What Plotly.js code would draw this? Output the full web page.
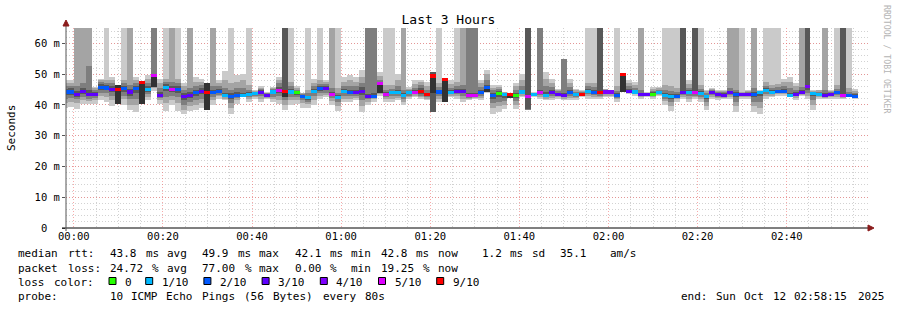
<!DOCTYPE html>
<html><head><meta charset="utf-8">
<script src="https://cdn.plot.ly/plotly-3.0.1.min.js"></script>
<style>html,body{margin:0;padding:0;background:#fff;}</style>
</head><body>
<div id="chart" style="width:897px;height:310px"></div>
<script>
// ---------------- DATA ----------------
// bars every 80 s, first bar starts 23:57:20 (partly hidden by the axis start)
const firstBarStart = Date.UTC(2025, 9, 11, 23, 57, 20);
const stepSeconds = 80;
const rangeStart = '2025-10-11 23:58:15';
const rangeEnd = '2025-10-12 02:58:15';

const median = [44.2,44.2,43.3,44.4,43.4,43.5,45.8,45.5,45.0,45.1,45.3,44.2,
45.2,47.4,44.9,49.7,43.2,45.8,44.9,45.0,42.6,43.1,
43.9,44.5,44.1,44.1,44.4,43.1,42.6,43.1,43.1,43.5,
43.7,44.1,43.1,44.2,44.8,44.3,44.2,43.9,42.8,42.3,
44.4,45.3,45.4,43.5,42.4,44.5,43.9,44.1,44.5,42.6,
42.8,47.0,43.5,43.9,43.9,43.0,43.9,44.1,44.3,43.3,
49.4,44.2,48.3,44.0,44.5,44.5,43.0,43.0,44.0,45.8,
43.1,43.7,43.5,43.5,43.0,44.2,42.7,43.5,44.0,43.1,
44.0,43.5,43.1,43.9,43.3,43.4,44.4,44.1,44.1,44.2,
44.2,43.1,49.9,44.5,44.2,43.3,43.5,43.5,44.1,43.1,
42.8,42.8,44.0,43.9,43.9,43.7,42.6,43.9,43.5,43.1,
43.9,43.5,43.3,43.5,43.5,43.9,44.8,44.0,44.4,44.5,
43.1,43.5,44.1,46.1,43.7,43.5,43.1,43.5,43.9,43.1,
43.1,42.8];
const lossCount = [2,2,3,3,3,3,2,2,3,9,2,3,
2,9,1,5,3,1,5,2,3,3,
2,3,9,2,2,1,2,2,1,1,
1,3,3,1,5,9,1,0,2,1,
1,2,3,5,1,1,2,3,3,3,
2,5,5,1,1,1,1,5,9,9,
9,2,9,1,3,3,5,5,2,2,
2,0,1,9,0,1,5,1,5,1,
3,3,3,2,1,9,1,2,9,4,
4,2,9,3,1,3,3,0,1,1,
1,2,3,1,5,1,1,3,3,3,
3,2,3,3,2,1,1,1,2,2,
1,3,3,4,1,1,3,3,2,5,
2,2];
// the ten pings of each step, sorted from fastest (ping1) to slowest (ping10); 70 = off the top
const ping1 = [39.0,39.2,38.8,40.4,40.4,40.4,41.5,41.0,39.6,40.4,40.0,38.3,
37.8,40.4,41.5,44.5,40.4,38.0,40.0,38.0,37.2,38.0,
38.3,39.0,38.3,40.0,42.0,41.5,37.0,40.4,42.6,41.0,
42.0,41.0,42.0,41.0,40.4,38.3,40.0,40.4,39.0,39.0,
40.0,42.0,42.6,40.0,38.0,41.0,41.0,41.5,37.8,40.0,
41.0,43.0,41.0,41.0,41.5,40.0,42.0,42.6,42.0,41.5,
37.8,41.0,41.0,42.6,42.0,41.0,41.5,42.0,41.5,44.0,
37.2,37.8,38.8,42.4,38.8,42.6,38.3,42.6,42.0,41.5,
41.5,42.0,41.5,41.5,41.5,42.6,42.0,42.0,42.0,42.6,
42.6,41.0,44.2,43.7,43.0,42.0,42.6,42.0,43.0,40.0,
38.0,41.0,42.0,41.0,42.0,41.0,38.3,42.0,41.5,42.0,
42.0,37.8,42.0,42.0,37.8,37.2,42.0,42.6,43.0,43.0,
42.6,41.5,43.0,42.0,38.3,42.0,42.0,42.0,42.0,42.0,
42.6,42.0];
const ping2 = [40.5,41.0,40.5,41.5,41.2,41.5,42.8,42.5,41.5,40.4,41.8,40.0,
40.0,40.4,42.5,45.5,41.5,40.5,41.5,40.5,38.5,39.5,
40.0,40.5,38.3,41.5,42.8,42.0,39.0,41.5,42.7,42.0,
42.5,42.0,42.3,41.8,41.5,40.0,41.5,41.5,40.5,40.2,
41.5,43.0,43.3,41.2,39.5,42.0,42.0,42.3,39.5,41.0,
41.8,43.5,41.8,42.0,42.3,41.0,42.5,43.0,42.5,42.0,
37.8,42.0,41.0,43.0,42.8,42.0,42.0,42.3,42.3,44.1,
39.0,39.5,40.0,42.4,40.0,43.0,38.4,42.8,42.6,42.0,
42.3,42.5,42.0,42.3,42.2,42.8,42.8,42.7,42.5,43.0,
43.0,41.8,44.2,43.9,43.4,42.5,42.9,42.5,43.3,41.2,
39.8,41.8,42.6,42.0,42.5,41.8,39.8,42.6,42.2,42.4,
42.6,39.5,42.5,42.6,39.5,39.0,42.8,43.0,43.4,43.5,
42.7,42.2,43.3,43.0,40.0,42.5,42.4,42.5,42.6,42.4,
42.7,42.3];
const ping3 = [42.0,42.2,41.8,42.5,42.0,42.3,43.8,43.8,43.0,40.4,43.0,41.8,
42.0,40.4,43.5,45.8,42.2,42.5,43.0,42.5,40.0,41.0,
41.5,42.0,38.3,42.5,43.3,42.5,40.5,42.2,42.8,42.6,
42.9,42.8,42.6,42.6,42.8,41.5,42.6,42.5,41.5,41.0,
42.8,43.8,44.0,42.2,40.8,43.0,42.8,43.0,41.5,41.8,
42.2,44.0,42.5,42.8,42.9,41.8,43.0,43.4,43.0,42.5,
37.8,42.8,41.0,43.4,43.4,43.0,42.4,42.6,43.0,44.2,
40.5,41.0,41.2,42.4,41.2,43.5,38.5,43.0,43.2,42.5,
43.0,42.9,42.5,43.0,42.7,43.0,43.4,43.3,43.0,43.4,
43.4,42.4,44.2,44.1,43.7,42.8,43.1,42.9,43.6,42.0,
41.0,42.3,43.2,42.8,43.0,42.5,41.0,43.1,42.7,42.7,
43.1,41.0,42.8,43.0,41.0,41.0,43.6,43.4,43.8,43.9,
42.8,42.8,43.6,44.0,41.5,42.9,42.7,42.9,43.1,42.7,
42.8,42.5];
const ping4 = [43.2,43.3,42.6,43.5,42.8,42.9,44.8,44.8,44.2,40.4,44.2,43.0,
43.8,40.4,44.2,45.8,42.8,44.5,44.2,44.0,41.5,42.3,
42.8,43.5,38.3,43.5,43.8,42.8,41.8,42.7,42.9,43.0,
43.3,43.5,42.8,43.4,44.0,42.6,43.5,43.3,42.2,41.7,
43.8,44.6,44.8,43.0,41.8,43.8,43.4,43.6,43.3,42.3,
42.5,44.0,43.0,43.4,43.4,42.5,43.4,43.8,43.5,42.9,
37.8,43.5,41.0,43.7,44.0,43.8,42.7,42.8,43.5,44.2,
42.0,42.5,42.3,42.4,42.2,43.9,38.6,43.2,43.6,42.8,
43.5,43.2,42.8,43.5,43.0,43.2,43.9,43.7,43.5,43.8,
43.8,42.8,44.2,44.3,43.9,43.1,43.3,43.2,43.9,42.6,
42.0,42.6,43.6,43.4,43.5,43.2,41.9,43.5,43.1,42.9,
43.5,42.5,43.1,43.3,42.6,42.8,44.2,43.7,44.1,44.2,
42.9,43.2,43.9,45.0,42.8,43.2,42.9,43.2,43.5,42.9,
42.9,42.7];
const ping5 = [43.9,44.0,43.0,44.1,43.1,43.2,45.5,45.2,44.7,40.4,45.0,43.9,
44.9,40.4,44.6,45.8,43.0,45.5,44.7,44.8,42.3,42.9,
43.6,44.2,38.3,43.9,44.2,43.0,42.4,43.0,43.0,43.3,
43.6,43.9,43.0,44.0,44.6,42.6,44.0,43.7,42.6,42.1,
44.2,45.1,45.2,43.3,42.2,44.3,43.7,43.9,44.2,42.5,
42.7,44.0,43.3,43.7,43.7,42.8,43.7,44.0,43.8,43.1,
44.0,44.0,41.0,43.9,44.3,44.3,42.9,42.9,43.8,44.2,
42.8,43.4,43.2,42.4,42.8,44.1,42.5,43.4,43.9,43.0,
43.8,43.4,43.0,43.8,43.2,43.3,44.2,44.0,43.9,44.0,
44.0,43.0,44.2,44.4,44.1,43.2,43.4,43.4,44.0,43.0,
42.6,42.7,43.9,43.8,43.8,43.6,42.4,43.8,43.4,43.0,
43.8,43.3,43.2,43.4,43.3,43.7,44.6,43.9,44.3,44.4,
43.0,43.4,44.0,45.8,43.5,43.4,43.0,43.4,43.8,43.0,
43.0,42.8];
const ping6 = [44.5,44.6,43.6,44.7,43.7,43.8,46.1,45.8,45.3,46.5,45.6,44.5,
45.5,47.4,45.2,49.7,43.5,46.1,45.2,45.3,42.9,43.4,
44.2,44.8,47.0,44.4,44.7,43.3,42.9,43.3,43.3,43.7,
43.8,44.3,43.2,44.4,45.0,44.3,44.5,44.1,43.0,42.5,
44.6,45.5,45.6,43.7,42.6,44.7,44.1,44.3,44.8,42.8,
43.0,47.0,43.7,44.1,44.1,43.2,44.1,44.3,44.6,43.5,
49.4,44.4,48.5,44.2,44.7,44.7,43.2,43.2,44.2,45.8,
43.4,44.0,43.6,43.5,43.3,44.4,42.9,43.6,44.2,43.3,
44.2,43.7,43.3,44.1,43.5,43.6,44.6,44.3,44.3,44.4,
44.4,43.3,49.9,44.7,44.4,43.5,43.6,43.7,44.3,43.3,
43.0,43.0,44.2,44.1,44.1,43.9,42.8,44.1,43.7,43.3,
44.1,43.7,43.5,43.7,43.7,44.0,45.0,44.2,44.6,44.7,
43.3,43.7,44.3,46.4,43.9,43.7,43.3,43.7,44.1,43.3,
43.3,43.0];
const ping7 = [45.2,45.4,44.5,45.5,45.0,44.3,46.8,46.5,46.0,46.5,46.3,45.3,
46.3,47.4,46.0,49.7,44.3,46.8,46.0,46.0,43.8,44.2,
45.0,45.5,47.0,45.0,45.3,44.0,43.8,44.2,44.0,44.2,
44.0,44.7,43.5,44.8,45.8,70,45.2,44.5,43.3,43.0,
45.2,46.0,46.1,44.3,43.2,45.3,44.8,45.0,45.8,43.5,
43.8,47.0,44.2,44.6,44.8,43.8,44.5,44.8,45.5,44.0,
50.7,45.0,48.5,44.7,45.2,45.3,44.0,44.0,44.8,46.5,
44.0,44.6,43.8,43.5,44.0,45.0,70,43.8,44.8,44.2,
44.8,44.0,44.0,44.8,43.9,43.9,45.2,44.9,70,44.7,
44.6,43.8,49.9,45.2,44.9,44.0,43.8,44.1,44.6,43.9,
43.6,43.5,70,44.7,70,44.4,43.3,44.4,43.9,43.8,
44.6,44.2,43.8,44.0,44.3,44.2,45.5,44.7,45.0,45.3,
44.0,44.2,44.8,70,44.1,44.0,43.8,43.9,44.5,70,
43.7,43.5];
const ping8 = [46.0,46.2,46.0,47.0,52.5,44.9,47.4,47.2,47.0,46.5,47.0,46.5,
47.2,47.4,47.0,70,45.5,47.5,47.5,47.0,44.8,45.5,
46.0,46.5,47.0,46.0,46.0,45.5,45.0,45.5,45.5,45.0,
44.3,45.1,43.8,45.2,47.0,70,46.0,45.0,43.6,43.8,
46.0,46.8,46.7,45.5,44.0,46.2,46.0,46.0,47.0,70,
70,48.0,45.0,45.3,46.0,45.0,44.9,45.5,46.5,45.0,
50.7,45.8,48.5,45.5,46.0,46.5,70,70,45.8,48.0,
44.8,45.2,44.0,43.5,45.0,46.3,70,43.9,70,46.0,
45.8,44.4,55.0,45.8,44.3,44.2,46.0,45.7,70,44.9,
44.8,44.5,49.9,46.0,45.6,45.0,43.9,44.6,45.0,44.8,
44.5,44.3,70,45.6,70,45.2,43.9,44.8,44.2,44.2,
45.5,45.0,44.0,44.2,45.5,44.4,46.2,45.4,45.7,46.2,
45.5,45.0,45.8,70,44.3,44.3,44.8,44.2,45.2,70,
44.3,44.0];
const ping9 = [47.0,47.2,70,70,70,45.4,48.0,48.0,48.0,46.5,48.0,70,
48.0,47.4,48.3,70,47.0,48.5,70,48.5,46.0,70,
47.5,47.5,47.0,70,47.0,48.0,47.0,47.5,48.0,46.5,
44.6,45.5,44.0,45.5,48.0,70,47.5,45.5,43.8,45.0,
47.2,48.0,47.3,70,45.5,47.5,48.0,47.5,49.0,70,
70,49.5,46.5,46.5,48.0,70,45.3,46.8,47.3,46.2,
50.7,47.0,48.5,46.8,47.5,70,70,70,47.0,50.0,
45.6,45.8,44.1,43.5,46.0,48.2,70,44.0,70,48.5,
47.0,44.8,55.0,47.0,44.8,44.5,47.2,47.0,70,45.1,
44.9,46.0,49.9,47.0,46.5,70,44.0,45.2,45.4,46.5,
46.0,45.5,70,46.8,70,46.5,44.5,45.1,44.5,44.5,
70,70,44.3,44.5,70,44.6,47.5,46.6,46.8,47.3,
47.3,46.0,70,70,44.6,44.7,70,44.5,46.5,70,
45.5,44.6];
const ping10 = [48.0,48.2,70,70,70,45.8,48.5,70,49.0,46.5,70,70,
49.0,47.4,49.6,70,48.5,70,70,70,47.0,70,
49.0,48.5,47.0,70,48.0,51.0,70,49.6,50.2,70,
44.8,46.0,44.2,45.8,49.0,70,70,46.0,44.0,70,
48.5,70,48.0,70,70,49.0,49.6,49.0,51.3,70,
70,50.7,70,70,50.2,70,45.8,48.0,48.0,47.4,
50.7,70,48.5,48.0,70,70,70,70,48.0,51.3,
46.4,46.4,44.2,43.5,47.0,50.2,70,44.2,70,50.7,
48.5,45.3,55.0,48.5,45.3,44.8,70,70,70,45.3,
45.0,70,49.9,48.0,47.4,70,44.2,45.8,45.8,70,
70,70,70,48.0,70,70,45.0,45.5,44.8,44.8,
70,70,70,44.8,70,44.8,70,70,70,48.5,
49.0,47.0,70,70,44.8,45.0,70,44.8,70,70,
70,45.3];

const yTickVals = [0,10,20,30,40,50,60];
// unit "m" (milli) sits in its own column; the bare 0 lines up with the digits
const yTickText = ['0\u00a0\u00a0','10 m','20 m','30 m','40 m','50 m','60 m'];
const lossLabels = ['0','1/10','2/10','3/10','4/10','5/10','9/10'];
const lossSteps = [0,1,2,3,4,5,9];
const lossColors = ['#26ff00','#00b8ff','#0059ff','#5e00ff','#7e00ff','#dd00ff','#ff0000'];
const smokeShades = ['#cacaca','#a4a4a4','#7e7e7e','#585858','#323232'];

const statLine1 = [['median',16],['rtt:',65.7],['43.8',107.5],['ms',143.5],['avg',164.8],['49.9',200.3],['ms',235.8],['max',257.1],
  ['42.1',292.6],['ms',328.1],['min',349.4],['42.8',378.8],['ms',414.3],['now',435.6],['1.2',480],['ms',508.4],['sd',529.7],['35.1',558.3],['am/s',607.5]];
const statLine2 = [['packet',16],['loss:',65.7],['24.72',107.5],['%',150.2],['avg',164.8],['77.00',200.3],['%',242.9],['max',257.1],
  ['0.00',292.6],['%',328.1],['min',349.4],['19.25',378.8],['%',421.4],['now',435.6]];
const probeWords = [['probe:',16],['10',107.5],['ICMP',128.8],['Echo',164.3],['Pings',199.8],['(56',242.4],['Bytes)',270.8],['every',320.5],['80s',363.1]];
const endWords = [['end:',678.5],['Sun',713.5],['Oct',742],['12',770.5],['02:58:15',791.5],['2025',855.5]];
const lossBoxX = [109,145.7,203.9,262.1,320.3,378.5,436.7];

// ---------------- DRAWING ----------------
const MONO = 'DejaVu Sans Mono, monospace';
const W = 897, H = 310, PL = 66, PR = 868, PT = 28, PB = 228;
const px = v => (v - PL) / (PR - PL);
const py = v => (PB - v) / (PB - PT);
const fmt = ms => new Date(ms).toISOString().replace('T', ' ').slice(0, 19);
const barX = median.map((_, i) => fmt(firstBarStart + (i * stepSeconds + stepSeconds / 2) * 1000));
const barW = stepSeconds * 1000;
const pings = [ping1, ping2, ping3, ping4, ping5, ping6, ping7, ping8, ping9, ping10];
function lossColor(n) {
  let c = lossColors[0];
  lossSteps.forEach((s, j) => { if (n >= s) c = lossColors[j]; });
  return c;
}

const traces = [];
for (let b = 0; b < 5; b++) {
  const lo = pings[b], hi = pings[9 - b];
  traces.push({
    type: 'bar', x: barX, base: lo, y: lo.map((v, i) => hi[i] - v), width: barW,
    marker: { color: smokeShades[b], line: { width: 0 } }, hoverinfo: 'skip', showlegend: false
  });
}
const medianThickness = 1.0;
traces.push({
  type: 'bar', x: barX, base: median.map(m => m - medianThickness / 2), y: median.map(() => medianThickness),
  width: barW, marker: { color: lossCount.map(lossColor), line: { width: 0 } }, hoverinfo: 'skip', showlegend: false
});

const annotations = [];
const legendFont = { family: MONO, size: 11, color: '#000' };
function txt(s, x, y, opts) {
  annotations.push(Object.assign({
    text: s, xref: 'paper', yref: 'paper', x: px(x), y: py(y), xanchor: 'left', yanchor: 'middle',
    showarrow: false, font: legendFont
  }, opts || {}));
}
statLine1.forEach(([s, x]) => txt(s, x, 254));
statLine2.forEach(([s, x]) => txt(s, x, 268));
txt('loss', 16, 282); txt('color:', 51.5, 282);
lossLabels.forEach((s, j) => txt(s, lossBoxX[j] + 14, 282));
probeWords.forEach(([s, x]) => txt(s, x, 296));
endWords.forEach(([s, x]) => txt(s, x, 296));
txt('Seconds', 11, 128, { xanchor: 'center', textangle: -90, font: { family: MONO, size: 11, color: '#000' } });
txt('RRDTOOL / TOBI OETIKER', 887, 59, { xanchor: 'center', textangle: 90, font: { family: MONO, size: 8.2, color: '#b4b4b4' } });

const shapes = [];
lossBoxX.forEach((x, j) => shapes.push({
  type: 'rect', xref: 'paper', yref: 'paper', x0: px(x), x1: px(x + 7), y0: py(284.5), y1: py(277.5),
  fillcolor: lossColors[j], line: { color: '#000', width: 1 }
}));
// axes with arrow heads
shapes.push({ type: 'line', xref: 'paper', yref: 'paper', x0: px(62), x1: px(869), y0: py(228), y1: py(228), line: { color: '#000', width: 1 } });
shapes.push({ type: 'line', xref: 'paper', yref: 'paper', x0: px(66), x1: px(66), y0: py(231), y1: py(24), line: { color: '#555', width: 1 } });
shapes.push({ type: 'path', xref: 'paper', yref: 'paper', fillcolor: '#8b1c1c', line: { color: '#8b1c1c', width: 1 },
  path: `M ${px(63)} ${py(26)} L ${px(69)} ${py(26)} L ${px(66)} ${py(20)} Z` });
shapes.push({ type: 'path', xref: 'paper', yref: 'paper', fillcolor: '#8b1c1c', line: { color: '#8b1c1c', width: 1 },
  path: `M ${px(868)} ${py(225)} L ${px(868)} ${py(231)} L ${px(874)} ${py(228)} Z` });

const majorGrid = 'rgba(240,100,100,0.55)';
const minorGrid = '#d2d2d2';
const layout = {
  width: W, height: H, margin: { l: PL, r: W - PR, t: PT, b: H - PB, pad: 0 },
  paper_bgcolor: '#ffffff', plot_bgcolor: '#ffffff',
  barmode: 'overlay', bargap: 0, showlegend: false,
  title: { text: 'Last 3 Hours', font: { family: MONO, size: 13, color: '#000' },
    xref: 'container', x: 0.5, xanchor: 'center', yref: 'container', y: 1 - 19 / H, yanchor: 'middle' },
  xaxis: {
    type: 'date', range: [rangeStart, rangeEnd], tickmode: 'linear', tick0: '2025-10-12 00:00:00', dtick: 1200000,
    tickformat: '%H:%M', showgrid: true, gridcolor: majorGrid, griddash: '1px,2px', gridwidth: 1,
    minor: { tickmode: 'linear', tick0: '2025-10-12 00:00:00', dtick: 300000, showgrid: true, gridcolor: minorGrid, griddash: '1px,2px', gridwidth: 1 },
    ticks: '', showline: false, zeroline: false, fixedrange: true,
    tickfont: { family: MONO, size: 10.5, color: '#000' }
  },
  yaxis: {
    range: [0, 65], tickmode: 'array', tickvals: yTickVals, ticktext: yTickText,
    showgrid: true, gridcolor: majorGrid, griddash: '1px,2px', gridwidth: 1,
    minor: { tickmode: 'linear', tick0: 0, dtick: 2, showgrid: true, gridcolor: minorGrid, griddash: '1px,2px', gridwidth: 1 },
    ticks: 'outside', ticklen: 3, tickcolor: '#555', showline: false, zeroline: false, fixedrange: true,
    tickfont: { family: MONO, size: 10.5, color: '#000' }, ticklabelstandoff: 0
  },
  annotations: annotations, shapes: shapes
};
Plotly.newPlot('chart', traces, layout, { staticPlot: true, displayModeBar: false });
</script>
</body></html>
